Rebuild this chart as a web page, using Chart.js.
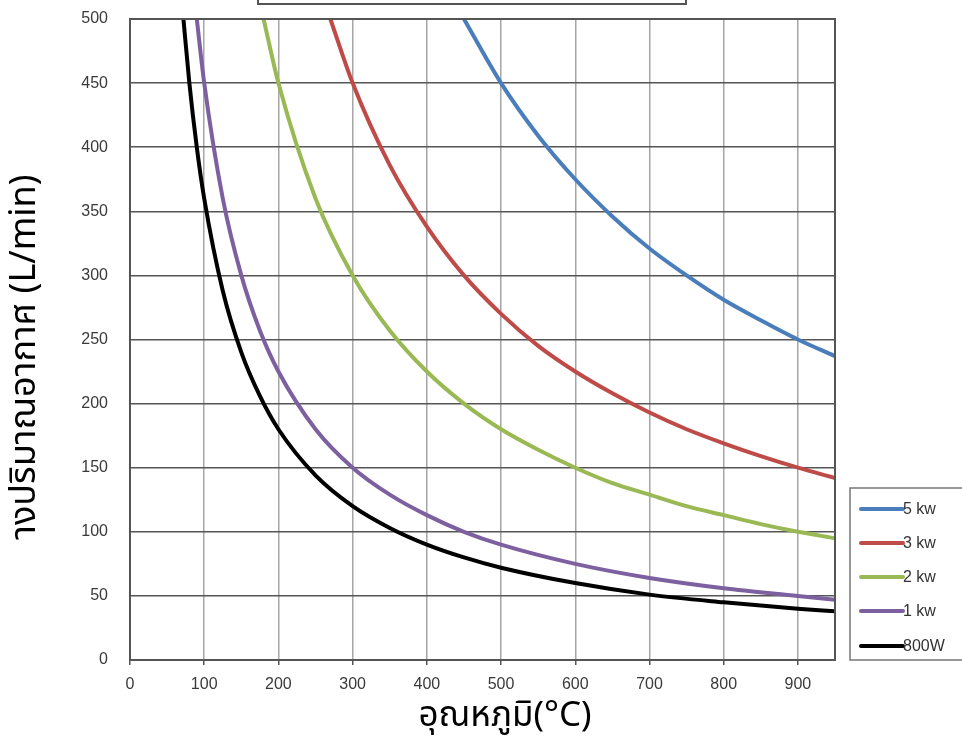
<!DOCTYPE html>
<html>
<head>
<meta charset="utf-8">
<script src="https://cdn.jsdelivr.net/npm/chart.js@4/dist/chart.umd.min.js"></script>
<style>
  html, body { margin: 0; padding: 0; background: #fff; }
  #wrap { width: 962px; height: 745px; position: relative; }
</style>
</head>
<body>
<div id="wrap"><canvas id="c" width="962" height="745"></canvas></div>
<script>
// Air flow (L/min) against outlet temperature (°C) for each heater power rating
const seriesNames = ['5 kw', '3 kw', '2 kw', '1 kw', '800W'];
const seriesColors = ['#4a7ebb', '#be4b48', '#98b954', '#7d60a0', '#000000'];

const temp5kw = [450, 500, 550, 600, 650, 700, 750, 800, 850, 900, 950];
const flow5kw = [500, 450, 409, 375, 346, 321, 300, 281, 265, 250, 237];

const temp3kw = [270, 300, 350, 400, 450, 500, 550, 600, 650, 700, 750, 800, 850, 900, 950];
const flow3kw = [500, 450, 386, 338, 300, 270, 245, 225, 208, 193, 180, 169, 159, 150, 142];

const temp2kw = [180, 200, 250, 300, 350, 400, 450, 500, 550, 600, 650, 700, 750, 800, 850, 900, 950];
const flow2kw = [500, 450, 360, 300, 257, 225, 200, 180, 164, 150, 138, 129, 120, 113, 106, 100, 95];

const temp1kw = [90, 100, 125, 150, 175, 200, 250, 300, 350, 400, 450, 500, 600, 700, 800, 900, 950];
const flow1kw = [500, 450, 360, 300, 257, 225, 180, 150, 129, 113, 100, 90, 75, 64, 56, 50, 47];

const temp800w = [72, 80, 90, 100, 125, 150, 175, 200, 250, 300, 350, 400, 450, 500, 600, 700, 800, 900, 950];
const flow800w = [500, 450, 400, 360, 288, 240, 206, 180, 144, 120, 103, 90, 80, 72, 60, 51, 45, 40, 38];

const xTicks = [0, 100, 200, 300, 400, 500, 600, 700, 800, 900];
const yTicks = [0, 50, 100, 150, 200, 250, 300, 350, 400, 450, 500];

const xTitle = 'อุณหภูมิ(°C)';
const yTitle = 'างปริมาณอากาศ (L/min)';

const tempSets = [temp5kw, temp3kw, temp2kw, temp1kw, temp800w];
const flowSets = [flow5kw, flow3kw, flow2kw, flow1kw, flow800w];

const datasets = seriesNames.map((name, i) => ({
  label: name,
  data: tempSets[i].map((t, j) => ({ x: t, y: flowSets[i][j] })),
  borderColor: seriesColors[i],
  backgroundColor: seriesColors[i],
  borderWidth: 4,
  pointRadius: 0,
  fill: false,
  cubicInterpolationMode: 'monotone',
  borderCapStyle: 'round'
}));

const FONT = '"Liberation Sans", Arial, sans-serif';
const THAI_FONT = '"Noto Sans Thai", "Noto Sans", "DejaVu Sans", sans-serif';

// Titles, the empty heading frame and the legend box
const decorations = {
  id: 'decorations',
  afterDraw(chart) {
    const ctx = chart.ctx;
    ctx.save();

    // heading frame running off the top edge
    ctx.strokeStyle = '#555';
    ctx.lineWidth = 2;
    ctx.strokeRect(258, -4, 428, 8);

    // axis titles
    ctx.fillStyle = '#000';
    ctx.font = '35px ' + THAI_FONT;
    ctx.textAlign = 'center';
    ctx.textBaseline = 'middle';
    ctx.fillText(xTitle, 505, 719);

    ctx.save();
    ctx.font = '36px ' + THAI_FONT;
    ctx.translate(28, 357);
    ctx.rotate(-Math.PI / 2);
    ctx.fillText(yTitle, 0, 0);
    ctx.restore();

    // legend
    const lx = 850, ly = 488, lw = 120, lh = 172;
    ctx.fillStyle = '#fff';
    ctx.fillRect(lx, ly, lw, lh);
    ctx.strokeStyle = '#777';
    ctx.lineWidth = 1.5;
    ctx.strokeRect(lx, ly, lw, lh);
    const rows = [509, 543, 577, 611, 646];
    ctx.font = '16px ' + FONT;
    ctx.textAlign = 'left';
    chart.data.datasets.forEach((ds, i) => {
      ctx.strokeStyle = ds.borderColor;
      ctx.lineWidth = 4;
      ctx.lineCap = 'round';
      ctx.beginPath();
      ctx.moveTo(861, rows[i]);
      ctx.lineTo(903, rows[i]);
      ctx.stroke();
      ctx.fillStyle = '#333';
      ctx.fillText(ds.label, 903, rows[i] + 1);
    });
    ctx.restore();
  }
};

new Chart(document.getElementById('c'), {
  type: 'line',
  data: { datasets },
  options: {
    responsive: false,
    animation: false,
    layout: { padding: { top: 19, right: 127, left: 0, bottom: 0 } },
    plugins: { legend: { display: false }, tooltip: { enabled: false } },
    scales: {
      x: {
        type: 'linear',
        min: 0,
        max: 950,
        afterBuildTicks: s => { s.ticks = xTicks.map(v => ({ value: v })); },
        afterFit: s => { s.height = 85; s.paddingLeft = 0; s.paddingRight = 0; },
        ticks: { color: '#3a3a3a', font: { family: FONT, size: 16 }, padding: 10, maxRotation: 0 },
        grid: { color: '#a6a6a6', lineWidth: 1.5, tickLength: 5, drawTicks: true, tickColor: '#555' },
        border: { color: '#555', width: 2 }
      },
      y: {
        type: 'linear',
        min: 0,
        max: 500,
        afterBuildTicks: s => { s.ticks = yTicks.map(v => ({ value: v })); },
        afterFit: s => { s.width = 130; s.paddingTop = 0; s.paddingBottom = 0; },
        ticks: { color: '#3a3a3a', font: { family: FONT, size: 16 }, padding: 22 },
        grid: { color: '#555', lineWidth: 1.5, drawTicks: false },
        border: { color: '#555', width: 2 }
      }
    }
  },
  plugins: [decorations, {
    id: 'frame',
    afterDatasetsDraw(chart) {
      const { ctx, chartArea: a } = chart;
      ctx.save();
      ctx.strokeStyle = '#555';
      ctx.lineWidth = 2;
      ctx.strokeRect(a.left, a.top, a.right - a.left, a.bottom - a.top);
      ctx.restore();
    }
  }]
});
</script>
</body>
</html>
